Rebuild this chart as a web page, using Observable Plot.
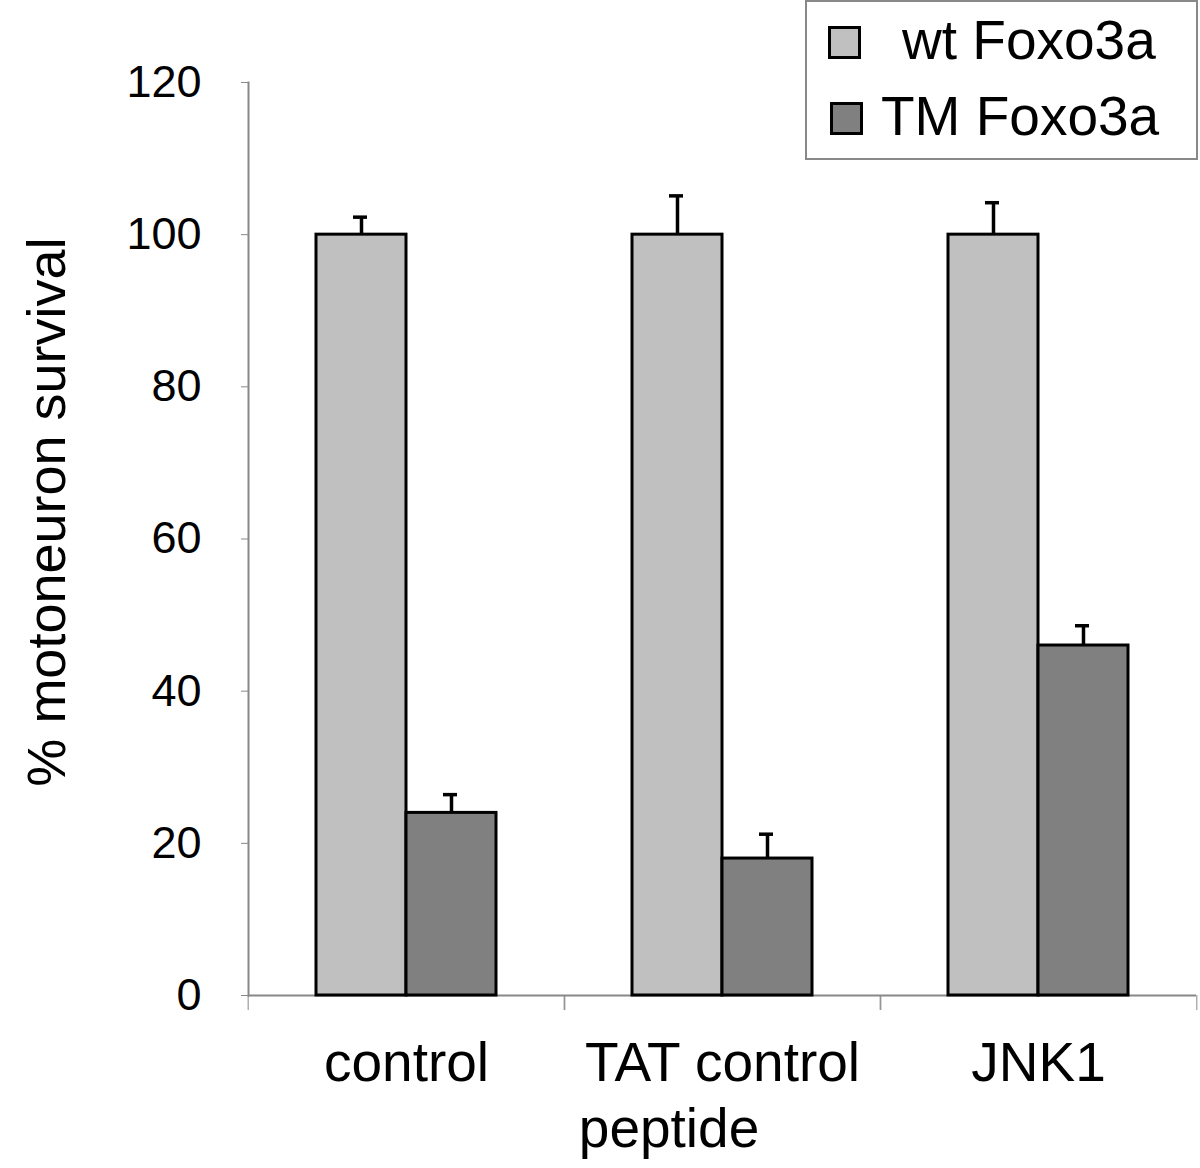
<!DOCTYPE html>
<html><head><meta charset="utf-8">
<script src="https://cdn.jsdelivr.net/npm/d3@7"></script>
<script src="https://cdn.jsdelivr.net/npm/@observablehq/plot@0.6"></script>
<style>
body{margin:0;background:#fff;font-family:"Liberation Sans",Arial,sans-serif;color:#000;}
#wrap{position:relative;width:1200px;height:1168px;overflow:hidden;}
#ylabel{position:absolute;left:46px;top:512px;transform:translate(-50%,-50%) rotate(-90deg);font-size:54px;white-space:nowrap;line-height:1;}
#legend{position:absolute;left:805px;top:0;width:393px;height:160px;border:2px solid #888;box-sizing:border-box;background:#fff;}
.lg-sw{position:absolute;width:33px;height:33px;border:3px solid #000;box-sizing:border-box;}
.lg-tx{position:absolute;font-size:55px;line-height:1;white-space:pre;}
</style></head>
<body><div id="wrap"></div>
<script>
const categories = ["control", "TAT control\npeptide", "JNK1"];
const series = ["wt Foxo3a", "TM Foxo3a"];
const wtValues = [100, 100, 100];
const wtErrors = [2.3, 5.1, 4.2];
const tmValues = [24, 18, 46];
const tmErrors = [2.4, 3.2, 2.6];
const yTicks = [0, 20, 40, 60, 80, 100, 120];
const colors = ["#c0c0c0", "#808080"];

const data = [];
categories.forEach((c, i) => {
  data.push({category: c, series: series[0], value: wtValues[i], err: wtErrors[i]});
  data.push({category: c, series: series[1], value: tmValues[i], err: tmErrors[i]});
});

const W = 1200, H = 1168, mL = 247, mR = 3, mT = 82, mB = 173;
const facetW = (W - mL - mR) / categories.length;

function fmtCat(d) {
  // left-align the second line under the first by padding it
  const lines = d.split("\n");
  if (lines.length > 1) lines[1] = lines[1] + "\u00A0".repeat(7);
  return lines.join("\n");
}

const plot = Plot.plot({
  width: W, height: H,
  marginLeft: mL, marginRight: mR, marginTop: mT, marginBottom: mB,
  style: {fontFamily: "'Liberation Sans', Arial, sans-serif", color: "#000", background: "#fff"},
  fx: {domain: categories, padding: 0, label: null},
  x: {domain: series, type: "band", paddingInner: 0, paddingOuter: 0.74, axis: null},
  y: {domain: [0, 120], label: null},
  color: {domain: series, range: colors},
  marks: [
    Plot.ruleY([0], {stroke: "#888", strokeWidth: 2}),
    Plot.frame({anchor: "left", facet: "super", stroke: "#888", strokeWidth: 2}),
    Plot.axisY({ticks: yTicks, tickSize: 7, tickPadding: 40, fontSize: 45, stroke: "#888", label: null}),
    Plot.axisFx({anchor: "bottom", tickSize: 15, tickFormat: () => "", dx: -facetW / 2, stroke: "#888", label: null}),
    Plot.axisFx({anchor: "bottom", tickSize: 15, tickFormat: () => "", dx: facetW / 2, stroke: "#888", label: null}),
    Plot.axisFx({anchor: "bottom", tickSize: 0, tickPadding: 39, fontSize: 55, lineHeight: 1.2, tickFormat: fmtCat, label: null}),
    Plot.barY(data, {fx: "category", x: "series", y: "value", fill: "series", stroke: "#000", strokeWidth: 3}),
    Plot.ruleX(data, {fx: "category", x: "series", y1: "value", y2: d => d.value + d.err, stroke: "#000", strokeWidth: 3.5}),
    Plot.tickY(data, {fx: "category", x: "series", y: d => d.value + d.err, stroke: "#000", strokeWidth: 3.5, insetLeft: 37, insetRight: 39})
  ]
});

const wrap = document.getElementById("wrap");
wrap.appendChild(plot);

const yl = document.createElement("div");
yl.id = "ylabel";
yl.textContent = "% motoneuron survival";
wrap.appendChild(yl);

const lg = document.createElement("div");
lg.id = "legend";
const lgPos = [{sx: 21, sy: 24, tx: 95, ty: 11, pre: " "}, {sx: 23, sy: 100, tx: 74, ty: 87, pre: ""}];
series.forEach((s, i) => {
  const sw = document.createElement("div");
  sw.className = "lg-sw";
  sw.style.left = lgPos[i].sx + "px"; sw.style.top = lgPos[i].sy + "px";
  sw.style.background = colors[i];
  lg.appendChild(sw);
  const tx = document.createElement("div");
  tx.className = "lg-tx";
  tx.style.left = lgPos[i].tx + "px"; tx.style.top = lgPos[i].ty + "px";
  tx.textContent = s;
  lg.appendChild(tx);
});
wrap.appendChild(lg);
</script></body></html>
